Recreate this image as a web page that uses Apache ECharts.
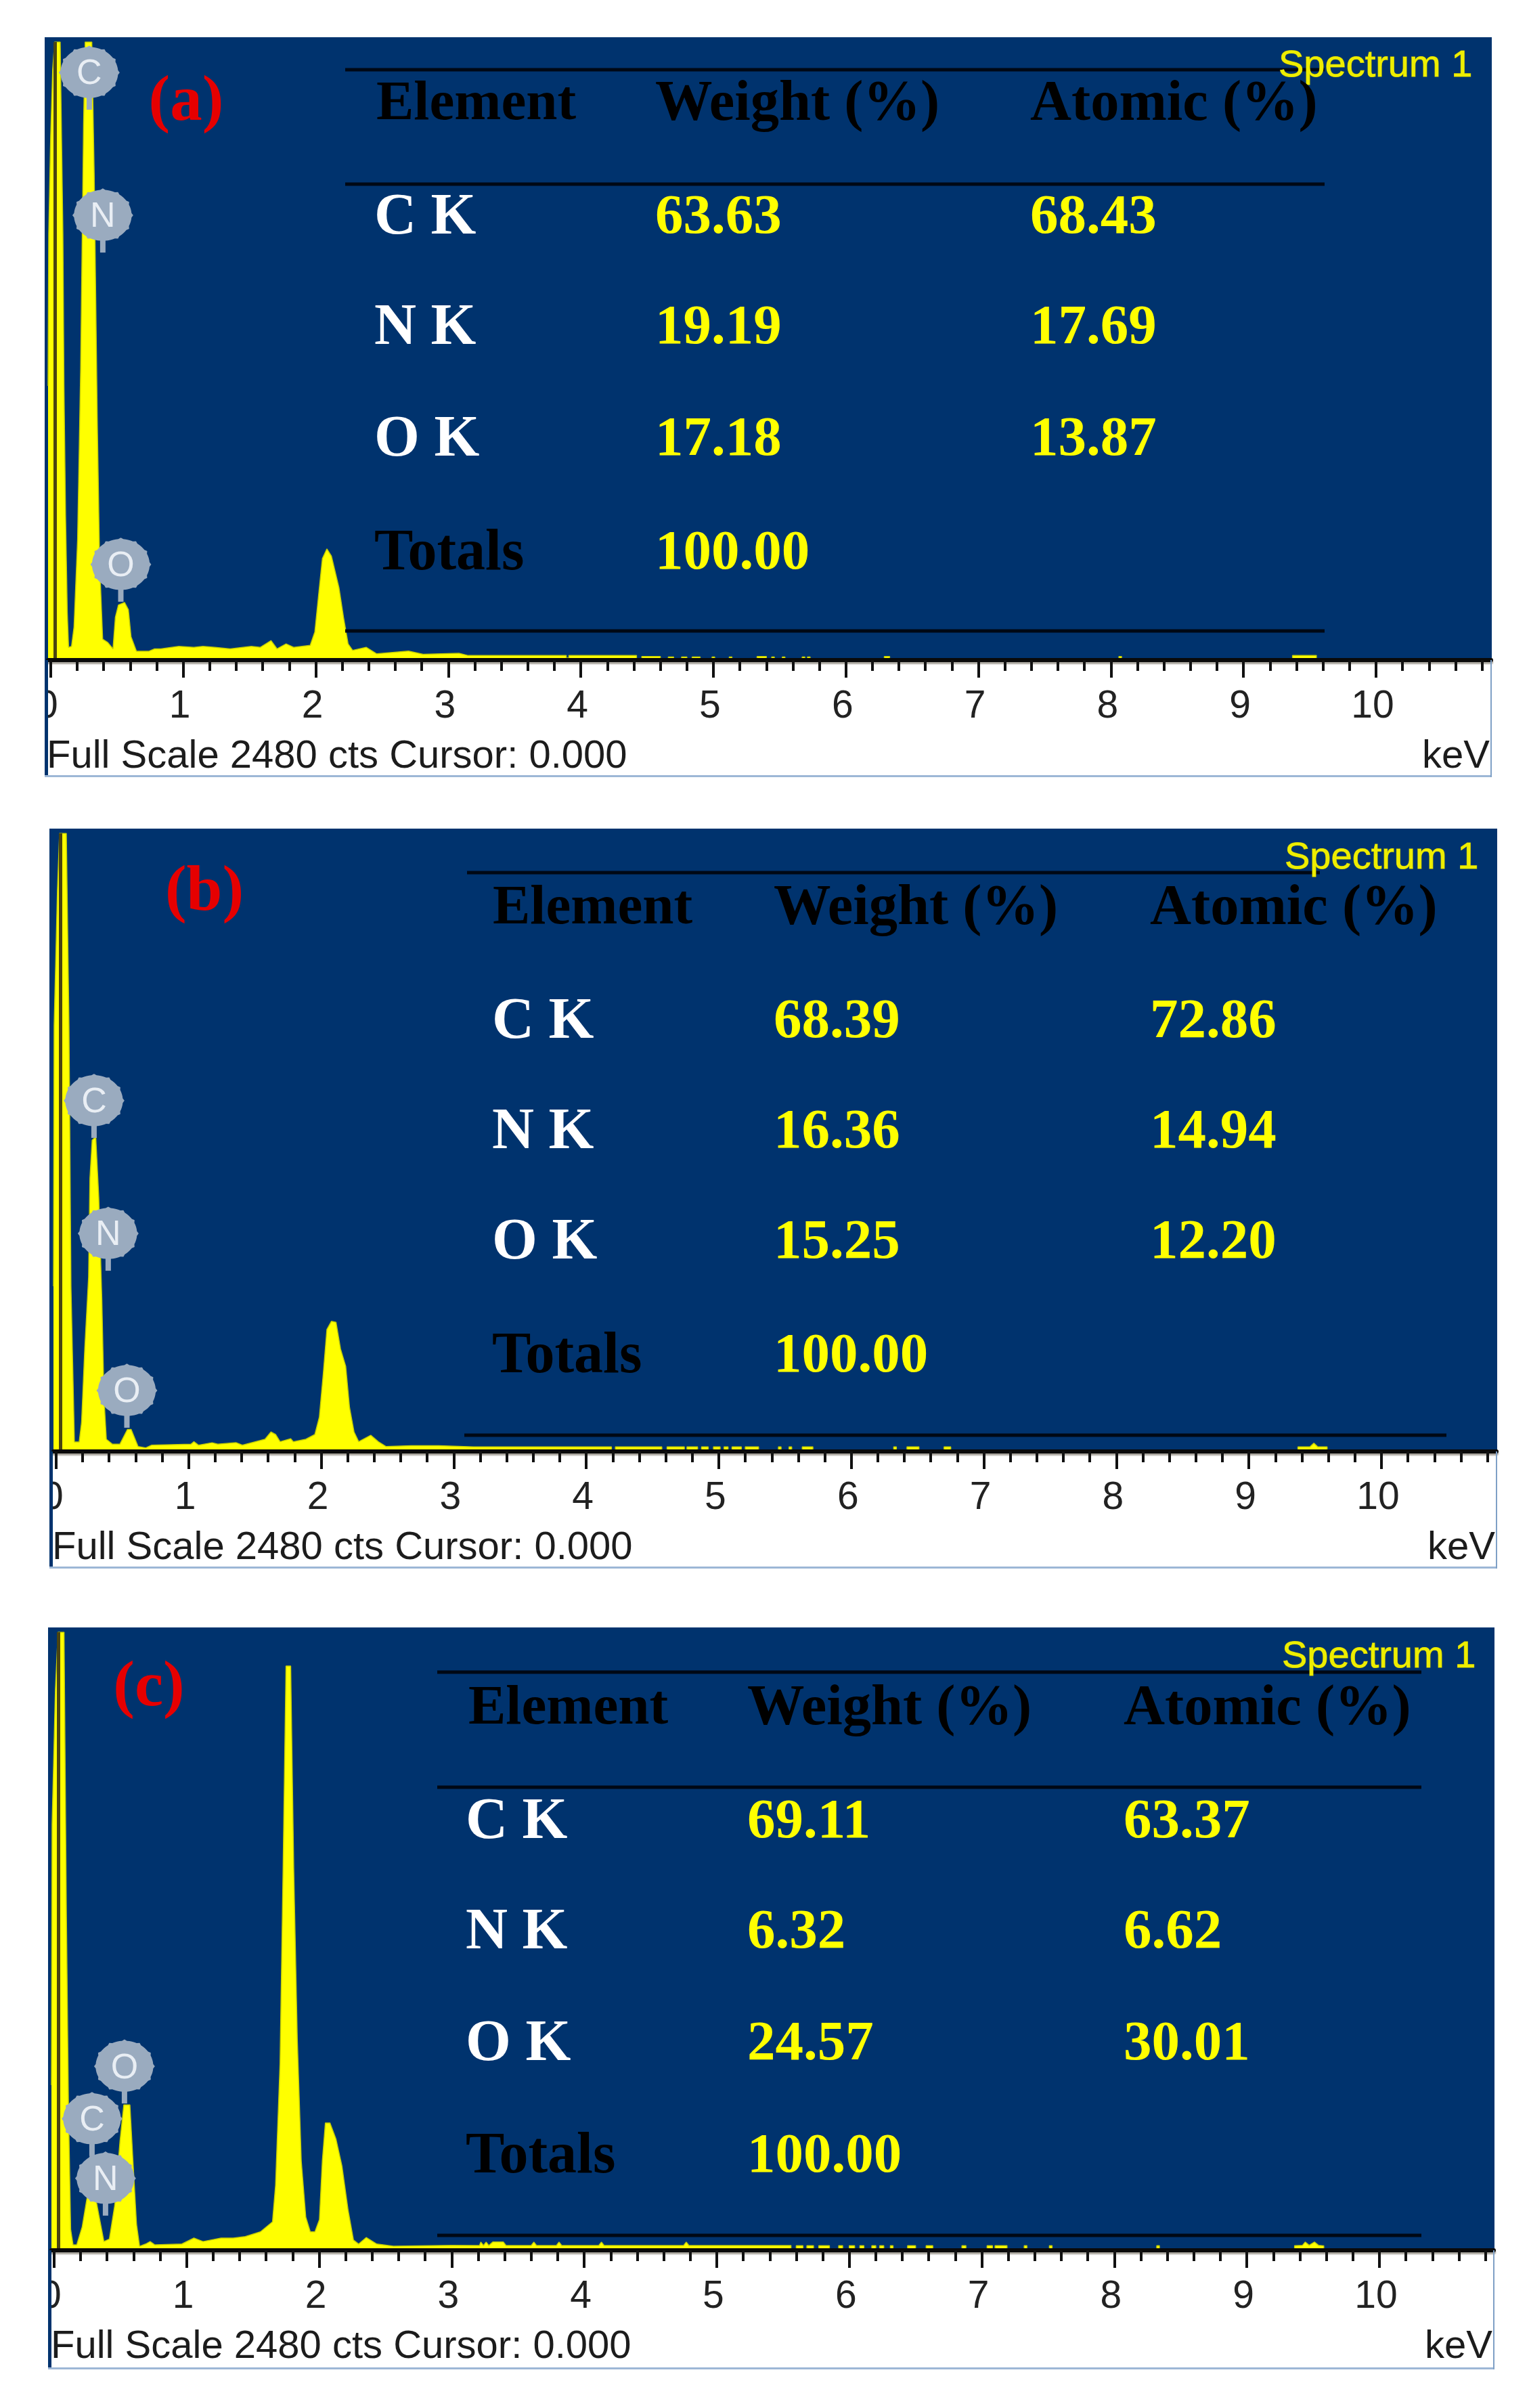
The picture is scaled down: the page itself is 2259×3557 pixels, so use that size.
<!DOCTYPE html>
<html><head><meta charset="utf-8">
<style>html,body{margin:0;padding:0;background:#fff}#c{width:2259px;height:3557px}</style>
<script src="https://cdn.jsdelivr.net/npm/echarts@6/dist/echarts.min.js"></script>
</head><body><div id="c"></div>
<script>
const tickLabels = [0,1,2,3,4,5,6,7,8,9,10];
const minorTicks = [0.2,0.4,0.6,0.8,1.2,1.4,1.6,1.8,2.2,2.4,2.6,2.8,3.2,3.4,3.6,3.8,4.2,4.4,4.6,4.8,5.2,5.4,5.6,5.8,6.2,6.4,6.6,6.8,7.2,7.4,7.6,7.8,8.2,8.4,8.6,8.8,9.2,9.4,9.6,9.8,10.2,10.4,10.6,10.8];
const tableRows = ['C K','N K','O K','Totals'];
const tableHeader = ['Element','Weight (%)','Atomic (%)'];
const weightA = ['63.63','19.19','17.18','100.00'];
const atomicA = ['68.43','17.69','13.87',''];
const weightB = ['68.39','16.36','15.25','100.00'];
const atomicB = ['72.86','14.94','12.20',''];
const weightC = ['69.11','6.32','24.57','100.00'];
const atomicC = ['63.37','6.62','30.01',''];

const spectrumA = [[-0.02,1100],[-0.015,1711],[0,2105],[0.015,2370],[0.03,2480],[0.0715,2480],[0.092,1711],[0.10,1100],[0.112,583],[0.125,192],[0.135,51],[0.157,55],[0.176,133],[0.203,485],[0.226,1170],[0.248,2149],[0.26,2480],[0.31,2480],[0.328,1953],[0.351,975],[0.369,387],[0.392,84],[0.431,70],[0.47,45],[0.488,172],[0.511,221],[0.557,231],[0.586,202],[0.606,94],[0.647,35],[0.739,35],[0.784,45],[0.83,45],[0.967,55],[1.08,51],[1.149,55],[1.24,51],[1.354,45],[1.514,55],[1.582,51],[1.662,78],[1.708,45],[1.776,65],[1.833,51],[1.958,59],[1.993,113],[2.027,290],[2.05,407],[2.084,446],[2.118,417],[2.175,290],[2.209,172],[2.244,65],[2.278,39],[2.38,51],[2.46,25],[2.7,36],[2.81,23],[3.08,27],[3.15,18],[3.89,18],[3.89,8],[3.91,8],[3.91,18],[4.42,18],[4.42,3],[4.46,3],[4.46,14],[4.6,14],[4.6,3],[4.66,3],[4.66,12],[4.7,12],[4.7,3],[4.76,3],[4.76,12],[4.8,12],[4.8,3],[4.84,3],[4.84,12],[4.9,12],[4.9,3],[4.99,3],[4.99,12],[5.01,12],[5.01,3],[5.12,3],[5.12,12],[5.14,12],[5.14,3],[5.33,3],[5.33,14],[5.40,14],[5.40,3],[5.44,3],[5.44,12],[5.46,12],[5.46,3],[5.52,3],[5.52,12],[5.54,12],[5.54,3],[5.67,3],[5.67,12],[5.69,12],[5.69,3],[5.71,3],[5.71,12],[5.73,12],[5.73,3],[6.29,3],[6.29,14],[6.33,14],[6.33,3],[8.06,3],[8.06,14],[8.08,14],[8.08,3],[9.37,3],[9.37,18],[9.55,18],[9.55,3],[10.87,0]];

const spectrumB = [[-0.02,663],[-0.015,1708],[0.01,2251],[0.026,2480],[0.077,2480],[0.097,1708],[0.112,663],[0.138,38],[0.174,38],[0.192,117],[0.216,411],[0.245,700],[0.255,1096],[0.272,1249],[0.299,1262],[0.322,1018],[0.345,607],[0.361,215],[0.379,49],[0.425,29],[0.481,29],[0.538,88],[0.566,88],[0.618,20],[0.675,14],[0.721,25],[1.017,29],[1.04,39],[1.075,25],[1.177,35],[1.22,29],[1.359,35],[1.405,25],[1.576,49],[1.621,78],[1.656,68],[1.69,39],[1.77,51],[1.79,39],[1.884,49],[1.952,68],[1.986,137],[2.016,313],[2.043,489],[2.077,522],[2.112,518],[2.146,411],[2.185,342],[2.214,176],[2.248,78],[2.283,39],[2.374,65],[2.431,39],[2.488,20],[2.68,23],[2.887,23],[3.15,18],[4.19,18],[4.19,6],[4.22,6],[4.22,18],[4.57,18],[4.57,3],[4.61,3],[4.61,18],[4.74,18],[4.74,3],[4.76,3],[4.76,18],[4.84,18],[4.84,3],[4.87,3],[4.87,18],[4.92,18],[4.92,3],[4.96,3],[4.96,18],[5.01,18],[5.01,3],[5.04,3],[5.04,18],[5.07,18],[5.07,3],[5.1,3],[5.1,18],[5.17,18],[5.17,3],[5.2,3],[5.2,18],[5.3,18],[5.3,3],[5.45,3],[5.45,18],[5.47,18],[5.47,3],[5.53,3],[5.53,18],[5.55,18],[5.55,3],[5.63,3],[5.63,18],[5.71,18],[5.71,3],[6.32,3],[6.32,18],[6.34,18],[6.34,3],[6.42,3],[6.42,18],[6.51,18],[6.51,3],[6.7,3],[6.7,18],[6.75,18],[6.75,3],[9.37,3],[9.37,18],[9.46,18],[9.49,33],[9.52,18],[9.59,18],[9.59,3],[10.87,0]];

const spectrumC = [[-0.02,663],[-0.015,1708],[0.01,2251],[0.03,2480],[0.075,2480],[0.093,1337],[0.109,554],[0.125,84],[0.143,22],[0.171,22],[0.212,94],[0.246,202],[0.269,260],[0.303,241],[0.337,143],[0.376,35],[0.417,45],[0.458,182],[0.497,436],[0.526,583],[0.572,583],[0.595,358],[0.622,104],[0.645,16],[0.691,25],[0.725,35],[0.759,22],[0.964,25],[1.055,49],[1.124,35],[1.26,49],[1.352,49],[1.443,55],[1.557,74],[1.648,114],[1.671,260],[1.705,750],[1.728,1532],[1.75,2344],[1.785,2344],[1.808,1532],[1.835,847],[1.865,358],[1.899,133],[1.933,74],[1.968,74],[2.002,123],[2.024,358],[2.047,511],[2.081,511],[2.127,446],[2.172,338],[2.218,162],[2.259,41],[2.298,25],[2.355,51],[2.435,25],[2.56,16],[3.0,20],[3.21,19],[3.22,33],[3.24,19],[3.25,19],[3.26,33],[3.28,19],[3.31,33],[3.39,33],[3.41,19],[3.6,19],[3.62,33],[3.64,19],[3.79,19],[3.81,33],[3.83,19],[4.11,19],[4.13,33],[4.15,19],[4.75,19],[4.77,33],[4.79,19],[5.56,19],[5.56,3],[5.60,3],[5.60,18],[5.65,18],[5.65,3],[5.68,3],[5.68,18],[5.73,18],[5.73,3],[5.77,3],[5.77,18],[5.85,18],[5.85,3],[5.92,3],[5.92,18],[5.95,18],[5.95,3],[6.0,3],[6.0,18],[6.04,18],[6.04,3],[6.08,3],[6.08,18],[6.11,18],[6.11,3],[6.17,3],[6.17,18],[6.2,18],[6.2,3],[6.23,3],[6.23,18],[6.26,18],[6.26,3],[6.31,3],[6.31,18],[6.33,18],[6.33,3],[6.44,3],[6.44,18],[6.5,18],[6.5,3],[6.58,3],[6.58,18],[6.63,18],[6.63,3],[6.85,3],[6.85,18],[6.88,18],[6.88,3],[7.04,3],[7.04,18],[7.08,18],[7.08,3],[7.1,3],[7.1,18],[7.19,18],[7.19,3],[7.32,3],[7.32,18],[7.34,18],[7.34,3],[7.51,3],[7.51,18],[7.53,18],[7.53,3],[8.32,3],[8.32,18],[8.34,18],[8.34,3],[9.36,3],[9.36,18],[9.42,20],[9.44,33],[9.47,20],[9.51,33],[9.54,20],[9.58,18],[9.58,3],[10.87,0]];

const badgesA = [['C',0.291,2208],['N',0.393,1635],['O',0.529,234]];
const badgesB = [['C',0.286,1258],['N',0.393,725],['O',0.534,95]];
const badgesC = [['C',0.286,378],['N',0.388,139],['O',0.531,589]];
const cursorKeV = 0.028;

const pxPerKeV = 195.8, plotH = 913;
const panels = [
 {tag:'(a)',tagX:275,tagY:152,L:66,T:55,R:2204,B:1148,axis:975,tick0:75,spec:spectrumA,badges:badgesA,w:weightA,a:atomicA,
  xs:[556,968,1522],rowX:553,ys:[155,323,486,651,819],lines:[[510,1957,103],[510,1957,272],[510,1957,932]],specX:1889,specY:98,fsX:69},
 {tag:'(b)',tagX:302,tagY:1319,L:73,T:1224,R:2212,B:2317,axis:2144,tick0:83,spec:spectrumB,badges:badgesB,w:weightB,a:atomicB,
  xs:[728,1143,1699],rowX:727,ys:[1343,1511,1674,1837,2005],lines:[[690,1950,1289],[686,2137,2120]],specX:1898,specY:1268,fsX:77},
 {tag:'(c)',tagX:220,tagY:2494,L:71,T:2404,R:2208,B:3500,axis:3324,tick0:80,spec:spectrumC,badges:badgesC,w:weightC,a:atomicC,
  xs:[692,1104,1660],rowX:688,ys:[2525,2693,2856,3021,3187],lines:[[646,2100,2470],[646,2100,2640],[646,2100,3302]],specX:1894,specY:2448,fsX:75}
];

const BLUE='#00336e', SERIF='"Liberation Serif","Times New Roman",serif', SANS='"Liberation Sans",Arial,sans-serif';
const TXT=(x,y,text,fill,size,font,weight,align,extra)=>({type:'text',z:60,style:Object.assign({x,y,text,fill,font:(weight||'normal')+' '+size+'px '+font,textAlign:align||'left',textVerticalAlign:'middle',verticalAlign:'middle'},extra||{})});
const RECT=(x,y,w,h,fill,z)=>({type:'rect',z,silent:true,shape:{x,y,width:w,height:h},style:{fill}});

function gearPoints(cx,cy,rx,ry){
  const pts=[],n=72;
  for(let i=0;i<n;i++){
    const t=i/n*Math.PI*2, k=1+0.045*(Math.cos(t*12)>0.55?1:-0.2);
    pts.push([cx+rx*k*Math.cos(t),cy+ry*k*Math.sin(t)]);
  }
  return pts;
}
function renderBadge(params,api){
  const tip=api.coord([api.value(1),api.value(2)]);
  const cx=tip[0],cy=tip[1]-55;
  return {type:'group',children:[
    {type:'rect',shape:{x:cx-4,y:cy+20,width:8,height:35},style:{fill:'#9aabbf'}},
    {type:'polygon',shape:{points:gearPoints(cx,cy,43,38)},style:{fill:'#9aabbf'}},
    {type:'text',style:{x:cx,y:cy+3,text:api.value(0),fill:'#e9eef4',font:'normal 52px '+SANS,textAlign:'center',textVerticalAlign:'middle',verticalAlign:'middle'}}
  ]};
}

const grid=[],xAxis=[],yAxis=[],series=[],graphic=[];
panels.forEach((p,i)=>{
  const left=p.tick0-4, xmax=(p.R-1-p.tick0)/pxPerKeV;
  grid.push({left,top:p.axis-plotH,width:p.R-1-left,height:plotH,show:false,containLabel:false});
  xAxis.push({gridIndex:i,type:'value',z:10,min:-0.02,max:xmax,position:'bottom',splitLine:{show:false},
    axisLine:{show:true,onZero:false,lineStyle:{color:'#0a0a0a',width:6,shadowColor:'#a8a49c',shadowBlur:2,shadowOffsetY:3}},
    axisTick:{show:true,customValues:tickLabels,length:26,lineStyle:{color:'#111',width:4}},
    axisLabel:{show:true,customValues:tickLabels,margin:41,color:'#222',fontSize:57,fontFamily:SANS,padding:[0,10,0,0],hideOverlap:false,showMinLabel:true,showMaxLabel:true,formatter:v=>String(v)}});
  xAxis.push({gridIndex:i,type:'value',z:10,min:-0.02,max:xmax,position:'bottom',splitLine:{show:false},
    axisLine:{show:false,onZero:false},
    axisTick:{show:true,customValues:minorTicks,length:16,lineStyle:{color:'#111',width:4}},
    axisLabel:{show:false}});
  yAxis.push({gridIndex:i,type:'value',min:0,max:2480,show:false,splitLine:{show:false}});
  series.push({type:'line',xAxisIndex:i*2,yAxisIndex:i,data:p.spec,showSymbol:false,symbol:'none',z:3,
    lineStyle:{color:'#c8d000',width:1.5},areaStyle:{color:'#ffff00',opacity:1},silent:true,
    markLine:{silent:true,symbol:'none',label:{show:false},animation:false,lineStyle:{color:'#4a4410',width:5,type:'solid'},data:[{xAxis:cursorKeV}]}});
  series.push({type:'custom',xAxisIndex:i*2,yAxisIndex:i,renderItem:renderBadge,data:p.badges,z:5,clip:false,silent:true,
    encode:{x:1,y:2}});

  graphic.push(RECT(p.L,p.T,p.R-p.L,p.axis-p.T,BLUE,-5));
  graphic.push(RECT(0,p.axis+4,p.L,p.B-p.axis,'#ffffff',40));
  graphic.push(RECT(p.L,p.axis,5,p.B-p.axis,BLUE,41));
  graphic.push(RECT(p.L,p.B-3,p.R-p.L,3,'#9db7d6',41));
  graphic.push(RECT(p.R-2,p.axis,2,p.B-p.axis,'#7fa0c6',41));
  p.lines.forEach(l=>graphic.push(RECT(l[0],l[2]-2.5,l[1]-l[0],5,'#000814',6)));
  graphic.push(TXT(p.tagX,p.tagY,p.tag,'#e60000',95,SERIF,'bold','center'));
  graphic.push(TXT(p.specX,p.specY,'Spectrum 1','#eeee00',56,SANS,'normal','left',{stroke:'#c8c800',lineWidth:1}));
  tableHeader.forEach((h,k)=>graphic.push(TXT(p.xs[k],p.ys[0],h,'#000000',k==0?83:84.5,SERIF,'bold')));
  tableRows.forEach((r,k)=>{
    graphic.push(TXT(p.rowX,p.ys[k+1],r,k==3?'#000000':'#ffffff',86,SERIF,'bold'));
    graphic.push(TXT(p.xs[1],p.ys[k+1],p.w[k],'#ffff00',83,SERIF,'bold'));
    if(p.a[k]) graphic.push(TXT(p.xs[2],p.ys[k+1],p.a[k],'#ffff00',83,SERIF,'bold'));
  });
  graphic.push(TXT(p.fsX,p.axis+143,'Full Scale 2480 cts Cursor: 0.000','#1c1c1c',58,SANS));
  graphic.push(TXT(p.R-3,p.axis+143,'keV','#1c1c1c',58,SANS,'normal','right'));
});

const chart=echarts.init(document.getElementById('c'),null,{renderer:'canvas'});
chart.setOption({animation:false,backgroundColor:'#fff',grid,xAxis,yAxis,series,graphic:{elements:graphic}});
</script></body></html>
